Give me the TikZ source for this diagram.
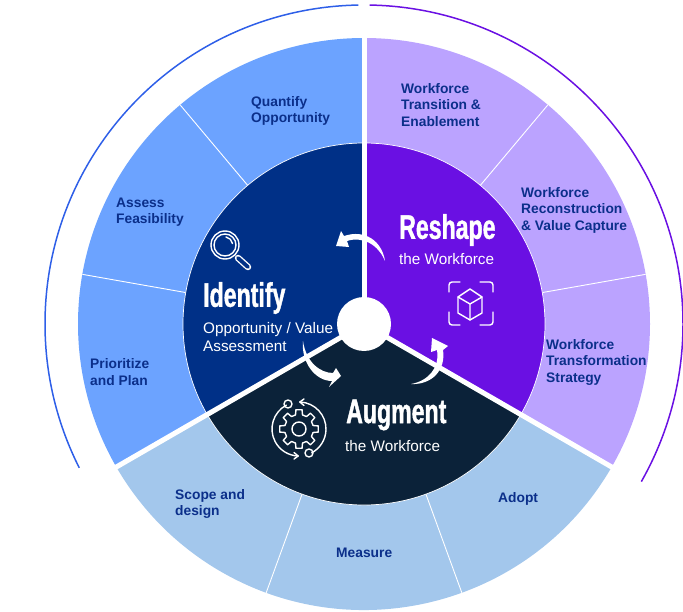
\documentclass[tikz,border=0pt]{standalone}
\usepackage{fontspec}
\setmainfont{Liberation Sans}
\newfontfamily\headfont[FakeStretch=0.68,FakeBold=1.2]{Liberation Sans Bold}
\definecolor{ringblue}{HTML}{6CA3FF}
\definecolor{ringlilac}{HTML}{BBA3FF}
\definecolor{ringsky}{HTML}{A3C7EC}
\definecolor{coreblue}{HTML}{003087}
\definecolor{corepurple}{HTML}{6A10E3}
\definecolor{corenavy}{HTML}{0B2239}
\definecolor{arcblue}{HTML}{2E5FE8}
\definecolor{labelblue}{HTML}{0B2F8A}
\tikzset{
    ringlabel/.style={anchor=west, align=left, text=labelblue, inner sep=0pt, font=\fontsize{13.8}{16.5}\selectfont\bfseries}, % texts on the outer ring
    headline/.style={anchor=west, text=white, inner sep=0pt, font=\fontsize{34}{36}\headfont}, % big titles
    subline/.style={anchor=west, align=left, text=white, inner sep=0pt, font=\fontsize{15.3}{18}\selectfont}, % texts under the titles
    iconline/.style={draw=white, line width=1.4pt, line join=round, line cap=round}, % thin strokes of the icons
    swoosh/.style={fill=white, draw=none}, % curved arrows round the hub
}

\begin{document}
\begin{tikzpicture}[x=1pt,y=1pt,yscale=-1]
    \useasboundingbox (0,0) rectangle (683,612);

    \begin{scope}[shift={(364,324)}]
        % outer ring
        \fill[ringblue] (0,0) -- (-90:286) arc (-90:-210:286) -- cycle;
        \fill[ringlilac] (0,0) -- (-90:286) arc (-90:30:286) -- cycle;
        \fill[ringsky] (0,0) -- (30:286) arc (30:150:286) -- cycle;
        \foreach \a in {-130,-170,-50,-10,70,110}
            \draw[white, line width=0.9pt] (\a:181) -- (\a:286);

        % inner sectors
        \fill[coreblue] (0,0) -- (-90:181) arc (-90:-210:181) -- cycle;
        \fill[corepurple] (0,0) -- (-90:181) arc (-90:30:181) -- cycle;
        \fill[corenavy] (0,0) -- (30:181) arc (30:150:181) -- cycle;
        \draw[white, line width=0.7pt] (0,0) circle (181);

        % gaps and hub
        \foreach \a in {-90,30,150}
            \draw[white, line width=5pt] (0,0) -- (\a:291);
        \fill[white] (0,0) circle (27);

        % arcs outside
        \draw[arcblue, line width=1.5pt] (-91:319) arc (-91:-206.8:319);
        \draw[corepurple, line width=1.5pt] (-89:319) arc (-89:29.6:319);
    \end{scope}

    % curved arrows
    \fill[swoosh] (385,261) .. controls (382,241) and (365,229) .. (344,236) -- (341,231) -- (336,246) -- (349,247) -- (347,241) .. controls (362,236) and (378,244) .. cycle;
    \fill[swoosh] (303,341) .. controls (301,362) and (315,381) .. (332,381) -- (329,387) -- (341,376) -- (336,368) -- (333,373) .. controls (320,373) and (306,362) .. cycle;
    \fill[swoosh] (411,384) .. controls (432,385) and (446,370) .. (443,350) -- (448,346) -- (432,338) -- (431,352) -- (437,350) .. controls (440,368) and (428,381) .. cycle;

    % outer ring texts
    \node[ringlabel] (quantify) at (251,111) {Quantify\\Opportunity};
    \node[ringlabel] (assess) at (116,212) {Assess\\Feasibility};
    \node[ringlabel] (prioritize) at (90,372) {Prioritize\\and Plan};
    \node[ringlabel] (transition) at (401,105) {Workforce\\Transition \&\\Enablement};
    \node[ringlabel] (reconstruction) at (521,210) {Workforce\\Reconstruction\\\& Value Capture};
    \node[ringlabel] (transformation) at (546,362) {Workforce\\Transformation\\Strategy};
    \node[ringlabel] (scope) at (175,504) {Scope and\\design};
    \node[ringlabel] (measure) at (336,553) {Measure};
    \node[ringlabel] (adopt) at (498,499) {Adopt};

    % inner texts
    \node[headline] (identify) at (203,298) {Identify};
    \node[subline] (identifysub) at (203,337) {Opportunity / Value\\Assessment};
    \node[headline] (reshape) at (399,230) {Reshape};
    \node[subline] (reshapesub) at (399,259) {the Workforce};
    \node[headline] (augment) at (346,415) {Augment};
    \node[subline] (augmentsub) at (345,446) {the Workforce};

    % magnifier
    \draw[iconline] (225,245) circle (14);
    \draw[iconline] (225,245) circle (11);
    \draw[iconline] (226,237) arc (-80:-10:8);
    \draw[white, line width=6.5pt, line cap=round] (238,258) -- (248,267);
    \draw[coreblue, line width=3.8pt, line cap=round] (238,258) -- (248,267);

    % cube
    \draw[iconline] (470,289) -- (482,297) -- (482,313) -- (470,320) -- (458,313) -- (458,297) -- cycle;
    \draw[iconline] (458,297) -- (470,304) -- (482,297) (470,304) -- (470,320);
    \draw[iconline, rounded corners=3pt] (449,292) -- (449,282) -- (460,282);
    \draw[iconline, rounded corners=3pt] (480,282) -- (493,282) -- (493,292);
    \draw[iconline, rounded corners=3pt] (449,312) -- (449,325) -- (460,325);
    \draw[iconline, rounded corners=3pt] (480,325) -- (493,325) -- (493,312);

    % gear
    \begin{scope}[shift={(299,429)}]
        \draw[iconline] (-9:19.5) \foreach \a in {0,45,...,315} {-- (\a-9:19.5) -- (\a+9:19.5) -- (\a+14:14.5) -- (\a+31:14.5)} -- cycle;
        \draw[iconline] (0,0) circle (7);
        \draw[iconline] (-88:27) arc (-88:62:27);
        \draw[iconline] (-118:27) arc (-118:-268:27);
        \draw[iconline] (5,-30) -- (0.8,-27) -- (5,-23.5);
        \draw[iconline] (-5,30) -- (-0.8,27) -- (-5,23.5);
        \draw[iconline] (-11,-25) circle (4);
        \draw[iconline] (10,24) circle (4);
    \end{scope}
\end{tikzpicture}
\end{document}
